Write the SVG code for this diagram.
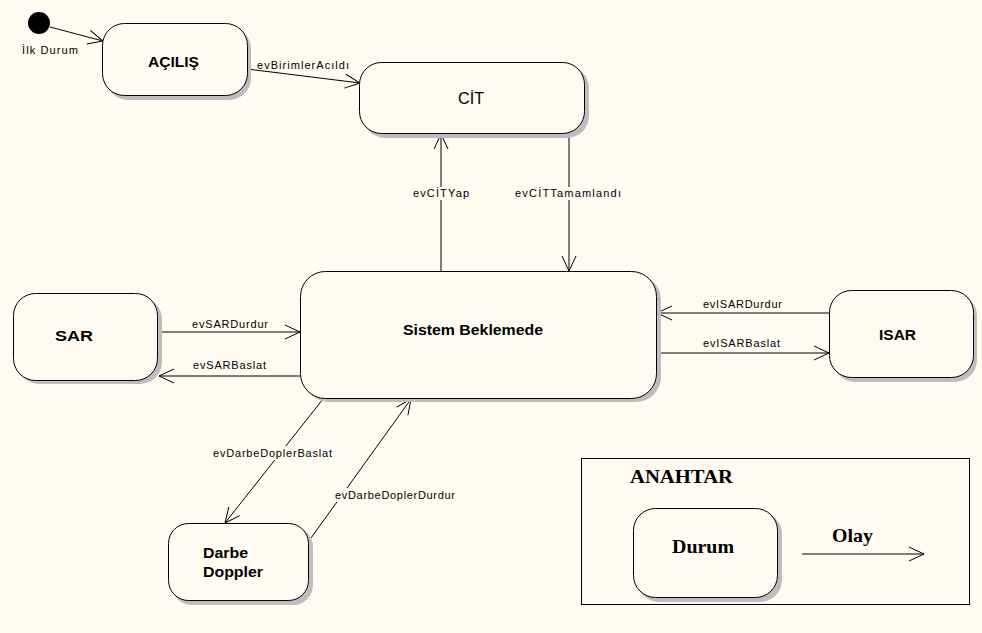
<svg xmlns="http://www.w3.org/2000/svg" width="982" height="633" viewBox="0 0 982 633">
<defs>
<style>
.bg{fill:#FFFBF0}
.st{fill:#FFFBF0;stroke:#000;stroke-width:1}
.sh{fill:#BDBDBD}
.c{fill:none;stroke:#000;stroke-width:1}
.lb{font-family:"Liberation Sans",Arial,sans-serif;font-size:11px;fill:#000}
.lbg{fill:#FFFBF0}
.nm{font-family:"Liberation Sans",Arial,sans-serif;font-size:14px;font-weight:bold;fill:#000}
.sf{font-family:"Liberation Serif","Times New Roman",serif;font-weight:bold;fill:#000}
</style>
<marker id="a" markerUnits="userSpaceOnUse" markerWidth="18" markerHeight="16" refX="16" refY="8" orient="auto" overflow="visible">
<path d="M1,1 L16,8 L1,15" fill="none" stroke="#000" stroke-width="1"/>
</marker>
</defs>
<rect class="bg" x="0" y="0" width="982" height="633"/>

<g id="connectors">
<line class="c" x1="50" y1="27" x2="103" y2="41" marker-end="url(#a)"/>
<line class="c" x1="247" y1="69" x2="360" y2="83" marker-end="url(#a)"/>
<line class="c" x1="441" y1="271" x2="441" y2="134" marker-end="url(#a)"/>
<line class="c" x1="569" y1="133" x2="569" y2="271" marker-end="url(#a)"/>
<line class="c" x1="158" y1="332" x2="300" y2="332" marker-end="url(#a)"/>
<line class="c" x1="300" y1="376" x2="159" y2="376" marker-end="url(#a)"/>
<line class="c" x1="829" y1="313" x2="657" y2="313" marker-end="url(#a)"/>
<line class="c" x1="657" y1="353" x2="829" y2="353" marker-end="url(#a)"/>
<line class="c" x1="323" y1="399" x2="225" y2="523" marker-end="url(#a)"/>
<line class="c" x1="311" y1="538" x2="411" y2="399" marker-end="url(#a)"/>

<rect class="lbg" x="412" y="187" width="59" height="13"/>
<text class="lb" x="413" y="197" textLength="56" lengthAdjust="spacing">evCİTYap</text>
<rect class="lbg" x="513" y="187" width="110" height="13"/>
<text class="lb" x="515" y="197" textLength="106" lengthAdjust="spacing">evCİTTamamlandı</text>
<text class="lb" x="257" y="69" textLength="92" lengthAdjust="spacing">evBirimlerAcıldı</text>
<text class="lb" x="192" y="328" textLength="76" lengthAdjust="spacing">evSARDurdur</text>
<text class="lb" x="193" y="369" textLength="73" lengthAdjust="spacing">evSARBaslat</text>
<text class="lb" x="703" y="308" textLength="79" lengthAdjust="spacing">evISARDurdur</text>
<text class="lb" x="703" y="347" textLength="77" lengthAdjust="spacing">evISARBaslat</text>
<rect class="lbg" x="212" y="446" width="122" height="14"/>
<text class="lb" x="213" y="457" textLength="119" lengthAdjust="spacing">evDarbeDoplerBaslat</text>
<rect class="lbg" x="334" y="488" width="123" height="14"/>
<text class="lb" x="335" y="499" textLength="120" lengthAdjust="spacing">evDarbeDoplerDurdur</text>
</g>

<g id="initial">
<circle cx="39" cy="23" r="11" fill="#000"/>
<text class="lb" x="22" y="54" textLength="56" lengthAdjust="spacing">İlk Durum</text>
</g>

<g id="acilis">
<rect class="sh" x="106" y="27" width="145" height="73" rx="22"/>
<rect class="st" x="102.5" y="23.5" width="145" height="72" rx="22"/>
<text class="nm" x="148" y="67" textLength="51" lengthAdjust="spacingAndGlyphs">AÇILIŞ</text>
</g>

<g id="cit">
<rect class="sh" x="363" y="66" width="226" height="72" rx="22"/>
<rect class="st" x="359.5" y="62.5" width="225" height="71" rx="22"/>
<text x="458" y="104" font-family="Liberation Sans,Arial,sans-serif" font-size="16" textLength="26" lengthAdjust="spacingAndGlyphs">CİT</text>
</g>

<g id="sistem">
<rect class="sh" x="304" y="275" width="357" height="127" rx="25"/>
<rect class="st" x="300.5" y="271.5" width="356" height="127" rx="25"/>
<text class="nm" x="403" y="335" textLength="140" lengthAdjust="spacingAndGlyphs">Sistem Beklemede</text>
</g>

<g id="sar">
<rect class="sh" x="17" y="297" width="145" height="87" rx="22"/>
<rect class="st" x="13.5" y="293.5" width="144" height="87" rx="22"/>
<text class="nm" x="55" y="341" textLength="38" lengthAdjust="spacingAndGlyphs">SAR</text>
</g>

<g id="isar">
<rect class="sh" x="833" y="294" width="144" height="88" rx="22"/>
<rect class="st" x="829.5" y="290.5" width="144" height="87" rx="22"/>
<text class="nm" x="879" y="340" textLength="37" lengthAdjust="spacingAndGlyphs">ISAR</text>
</g>

<g id="darbe">
<rect class="sh" x="172" y="527" width="141" height="78" rx="20"/>
<rect class="st" x="168.5" y="523.5" width="140" height="77" rx="20"/>
<text class="nm" x="203" y="558" textLength="45" lengthAdjust="spacingAndGlyphs">Darbe</text>
<text class="nm" x="203" y="577" textLength="60" lengthAdjust="spacingAndGlyphs">Doppler</text>
</g>

<g id="legend">
<rect x="581.5" y="458.5" width="388" height="146" fill="none" stroke="#000" stroke-width="1"/>
<text class="sf" x="630" y="483" font-size="19" textLength="103" lengthAdjust="spacingAndGlyphs">ANAHTAR</text>
<rect class="sh" x="637" y="512" width="145" height="90" rx="22"/>
<rect class="st" x="633.5" y="508.5" width="144" height="89" rx="22"/>
<text class="sf" x="672" y="553" font-size="19" textLength="62" lengthAdjust="spacingAndGlyphs">Durum</text>
<text class="sf" x="832" y="542" font-size="19" textLength="41" lengthAdjust="spacingAndGlyphs">Olay</text>
<line class="c" x1="802" y1="554" x2="924" y2="554" marker-end="url(#a)"/>
</g>
</svg>
